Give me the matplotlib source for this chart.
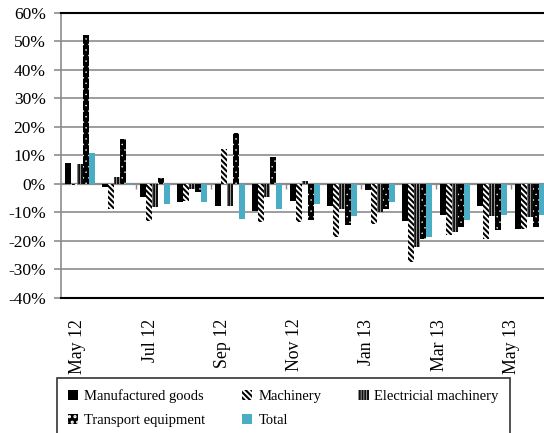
import numpy as np
import matplotlib
matplotlib.use("Agg")
import matplotlib.pyplot as plt
from matplotlib.ticker import FuncFormatter

plt.rcParams['font.family'] = ['Liberation Serif', 'DejaVu Serif']
plt.rcParams['hatch.linewidth'] = 1.5

# data (percent change)
months = ['May 12', 'Jun 12', 'Jul 12', 'Aug 12', 'Sep 12', 'Oct 12', 'Nov 12',
          'Dec 12', 'Jan 13', 'Feb 13', 'Mar 13', 'Apr 13', 'May 13']
manufactured = [7.5, -1.0, -4.7, -6.4, -7.6, -9.4, -5.9, -7.6, -2.3, -12.9, -11.0, -7.6, -15.8]
machinery = [-0.5, -8.8, -12.9, -5.9, 12.3, -13.2, -13.2, -18.7, -14.0, -27.3, -18.0, -19.3, -15.7]
electrical = [7.0, 2.3, -8.2, -1.7, -7.6, -4.7, 1.0, -8.8, -10.0, -22.2, -17.0, -11.4, -11.6]
transport = [52.3, 15.8, 2.2, -2.9, 18.0, 9.3, -12.7, -14.5, -8.8, -19.3, -15.1, -16.2, -15.1]
total = [11.0, -0.3, -7.0, -6.4, -12.3, -8.8, -7.0, -11.1, -6.4, -18.6, -12.8, -11.0, -11.0]

fig = plt.figure(figsize=(5.44, 4.33), dpi=100)
ax = fig.add_axes([0.112, 0.312, 0.896, 0.658])

x = np.arange(len(months))
w = 0.16
styles = [
    (manufactured, 'Manufactured goods', dict(facecolor='black', edgecolor='black', hatch=None)),
    (machinery, 'Machinery', dict(facecolor='white', edgecolor='black', hatch='\\\\\\\\\\\\')),
    (electrical, 'Electricial machinery', dict(facecolor='#d0d0d0', edgecolor='#111111', hatch='||||||')),
    (transport, 'Transport equipment', dict(facecolor='black', edgecolor='white', hatch='...')),
    (total, 'Total', dict(facecolor='#4bacc6', edgecolor='#4bacc6', hatch=None)),
]
bars = []
for i, (vals, name, st) in enumerate(styles):
    b = ax.bar(x + (i - 2) * w, vals, w, label=name, linewidth=0, zorder=3, **st)
    bars.append(b)

# thinner outline for the dot pattern so the dots stay small
for p in bars[3]:
    if hasattr(p, 'set_hatch_linewidth'):
        p.set_hatch_linewidth(0.3)

ax.set_xlim(-0.5, len(months) - 0.5)
ax.set_ylim(-40, 60)
ax.set_yticks(np.arange(-40, 61, 10))
ax.yaxis.set_major_formatter(FuncFormatter(lambda v, p: f'{v:.0f}%'))
ax.grid(axis='y', color='#8c8c8c', linewidth=1.2, zorder=0)
ax.axhline(0, color='#8c8c8c', linewidth=1.6, zorder=2)

# category tick marks on the zero line every two months
ax.vlines(x[2::2] - 0.5, -1.8, 0, color='#8c8c8c', linewidth=1.0, zorder=2)

# labels in the original sit a little left of the group centres
ax.set_xticks(x[::2] * 0.964 - 0.05)
ax.set_xticklabels(months[::2], rotation=90, fontsize=12.8)
ax.tick_params(axis='x', length=0, pad=15)
ax.tick_params(axis='y', length=5, color='#8c8c8c', width=1.2, labelsize=12.5, pad=6)

ax.spines['left'].set_color('#8c8c8c')
ax.spines['left'].set_linewidth(1.2)
ax.spines['top'].set_color('black')
ax.spines['top'].set_linewidth(1.5)
ax.spines['bottom'].set_color('black')
ax.spines['bottom'].set_linewidth(1.5)
ax.spines['right'].set_visible(False)

# legend fills column by column, so reorder to read row by row
order = [0, 3, 1, 4, 2]
leg = fig.legend([bars[k] for k in order], [styles[k][1] for k in order],
                 loc='upper left', bbox_to_anchor=(0.105, -0.073, 0.832, 0.2), mode='expand',
                 ncol=3, fontsize=10.5, frameon=True, fancybox=False, handlelength=0.7,
                 handleheight=0.7, handletextpad=0.4, borderaxespad=0, borderpad=0.75,
                 labelspacing=0.75, columnspacing=1.0)
leg.get_frame().set_edgecolor('black')
leg.get_frame().set_linewidth(1.2)

fig.savefig('out.png', dpi=100)
